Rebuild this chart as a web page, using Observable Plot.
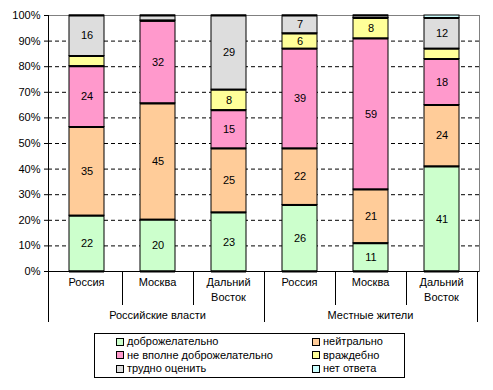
<!DOCTYPE html>
<html><head><meta charset="utf-8">
<script src="https://cdn.jsdelivr.net/npm/d3@7"></script>
<script src="https://cdn.jsdelivr.net/npm/@observablehq/plot@0.6"></script>
<style>
body{margin:0;background:#fff;font-family:Arial,"Liberation Sans",sans-serif;}
#wrap{position:relative;width:493px;height:390px;overflow:hidden;}
#legend{position:absolute;left:94px;top:333px;width:309px;height:43px;border:1px solid #000;font-size:11px;color:#000;}
.item{position:absolute;display:flex;align-items:center;white-space:nowrap;height:13px;line-height:13px;}
.sw{width:6px;height:6px;border:1px solid #000;margin-right:3px;flex:none;}
</style></head><body><div id="wrap"></div>
<script>
const groups = ["Российские власти","Российские власти","Российские власти","Местные жители","Местные жители","Местные жители"];
const places = ["Россия","Москва","Дальний Восток","Россия","Москва","Дальний Восток"];
const series = ["доброжелательно","нейтрально","не вполне доброжелательно","враждебно","трудно оценить","нет ответа"];
const friendly = [22,20,23,26,11,41];
const neutral  = [35,45,25,22,21,24];
const notQuite = [24,32,15,39,59,18];
const hostile  = [4,0,8,6,8,4];
const hard     = [16,2,29,7,1,12];
const noAnswer = [0,0,0,0,0,1];
const colors = ["#ccffcc","#ffcc99","#ff99cc","#ffff99","#dddddd","#ccffff"];
const yTicks = [0,0.1,0.2,0.3,0.4,0.5,0.6,0.7,0.8,0.9,1];
const gridTicks = [0.1,0.2,0.3,0.4,0.5,0.6,0.7,0.8,0.9];

const values = [friendly, neutral, notQuite, hostile, hard, noAnswer];
const keys = groups.map((g,i)=>g+"|"+places[i]);
const table = [];
series.forEach((s,j)=>values[j].forEach((v,i)=>table.push({key:keys[i], series:s, value:v})));

const st = {x:"key", y:"value", z:"series", order:series, offset:"normalize"};

function categoryAxis(index, scales, vals, dims) {
  const x = scales.x;
  const bw = typeof x.bandwidth === "function" ? x.bandwidth() : x.bandwidth;
  const step = typeof x.step === "function" ? x.step() : (x(keys[1]) - x(keys[0]));
  const gap = (step - bw) / 2;
  const y0 = dims.height - dims.marginBottom;
  const g = d3.create("svg:g").attr("fill","#000").attr("font-size",11).attr("text-anchor","middle")
    .attr("font-family","Arial, 'Liberation Sans', sans-serif");
  const line = (x1,y1,x2,y2)=>g.append("line").attr("x1",x1).attr("y1",y1).attr("x2",x2).attr("y2",y2)
    .attr("stroke","#000").attr("stroke-width",1);
  const px = v => Math.round(v) + 0.5;
  // left axis line
  line(px(dims.marginLeft), dims.marginTop, px(dims.marginLeft), y0 + 51);
  // boundaries
  keys.forEach((k,i)=>{
    if (i===0) return;
    const major = groups[i] !== groups[i-1];
    const bx = px(x(k) - gap);
    line(bx, y0, bx, y0 + (major ? 51 : 34));
  });
  const endX = px(x(keys[keys.length-1]) + bw + gap);
  line(endX, y0, endX, y0 + 51);
  // place labels
  keys.forEach((k,i)=>{
    const cx = x(k) + bw/2;
    places[i].split(" ").forEach((t,j)=>{
      g.append("text").attr("x",cx).attr("y", y0 + 15 + j*14.5).text(t);
    });
  });
  // group labels
  [...new Set(groups)].forEach(gr=>{
    const ks = keys.filter((k,i)=>groups[i]===gr);
    const a = x(ks[0]) - gap, b = x(ks[ks.length-1]) + bw + gap;
    g.append("text").attr("x",(a+b)/2).attr("y", y0 + 48).text(gr);
  });
  return g.node();
}

const chart = Plot.plot({
  width:493, height:330, marginLeft:48, marginRight:14, marginTop:15, marginBottom:59,
  style:{fontFamily:"Arial, 'Liberation Sans', sans-serif", fontSize:"11px", background:"white", color:"black"},
  x:{domain:keys, paddingInner:0.51, paddingOuter:0.255, axis:null},
  y:{domain:[0,1], ticks:yTicks, tickFormat:d3.format(".0%"), tickSize:4, tickPadding:4, label:null},
  color:{domain:series, range:colors},
  marks:[
    Plot.ruleY(gridTicks, {stroke:"#000", strokeDasharray:"4,3"}),
    Plot.frame({stroke:"#808080"}),
    Plot.barY(table, Plot.stackY({...st, fill:"series", stroke:"#000", strokeWidth:1})),
    Plot.tickY(table, Plot.stackY1({...st, stroke:"#000", strokeWidth:2})),
    Plot.text(table, Plot.stackY({...st, text:d=>d.value>=5?String(d.value):"", fill:"#000", fontSize:11})),
    Plot.ruleY([0], {stroke:"#000"}),
    categoryAxis
  ]
});
const wrap = document.getElementById("wrap");
wrap.appendChild(chart);

const legend = document.createElement("div");
legend.id = "legend";
series.forEach((s,i)=>{
  const it = document.createElement("div");
  it.className = "item";
  it.style.left = (i%2===0 ? 21 : 217) + "px";
  it.style.top = (1 + Math.floor(i/2)*13.5) + "px";
  const sw = document.createElement("span");
  sw.className = "sw"; sw.style.background = colors[i];
  const tx = document.createElement("span"); tx.textContent = s;
  it.appendChild(sw); it.appendChild(tx);
  legend.appendChild(it);
});
wrap.appendChild(legend);
</script></body></html>
